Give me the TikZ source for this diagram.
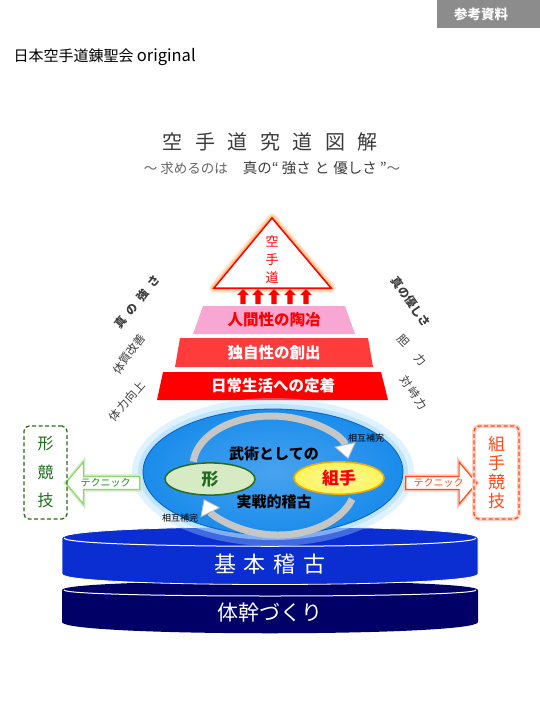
\documentclass[tikz,border=0pt]{standalone}
\usepackage{fontspec}
\setmainfont{Noto Sans CJK JP}
\usetikzlibrary{shapes.geometric,shapes.arrows,arrows.meta}
\definecolor{taggray}{HTML}{8C8C8C}
\definecolor{titlegray}{HTML}{3C3C3C}
\definecolor{subgray}{HTML}{666666}
\definecolor{pinktier}{HTML}{F8A6D2}
\definecolor{redtier}{HTML}{FF3B3B}
\definecolor{coreblue}{HTML}{1A8CEB}
\definecolor{coreedge}{HTML}{0A5FB8}
\definecolor{glowblue}{HTML}{A8DCFF}
\definecolor{katafill}{HTML}{D6EAC4}
\definecolor{kataedge}{HTML}{2C6A1C}
\definecolor{katatext}{HTML}{1E6E1E}
\definecolor{kumifill}{HTML}{FFF35A}
\definecolor{kumiedge}{HTML}{F0AC00}
\definecolor{techgreen}{HTML}{8FD46E}
\definecolor{techred}{HTML}{FF4A1A}
\definecolor{discblue}{HTML}{0A2ED2}
\definecolor{discnavy}{HTML}{000066}
\newcommand\tgap{\hspace{12.5pt}}
\begin{document}
\begin{tikzpicture}[x=1pt, y=-1pt, >=Stealth,
  tiertext/.style={font=\bfseries\fontsize{15.5}{15.5}\selectfont},
  sidetext/.style={text=titlegray, font=\fontsize{11.5}{11.5}\selectfont, inner sep=0pt},
  uparrow/.style={single arrow, shape border rotate=90, fill=red, inner sep=2.5pt,
    minimum height=15pt, single arrow head extend=3pt, single arrow head indent=0pt},
  techarrow/.style={single arrow, fill=white, line width=1.2pt, inner ysep=1.5pt, inner xsep=3pt,
    minimum height=74pt, single arrow head extend=14.5pt, single arrow tip angle=100,
    font=\fontsize{10}{10}\selectfont},
  sportbox/.style={rectangle, rounded corners=5pt, dashed, dash pattern=on 4pt off 2.5pt,
    line width=1.3pt, minimum height=93pt, align=center, inner sep=0pt},
  ribbon/.style={line width=7pt, gray!45,
    -{Triangle[width=22pt, length=15pt, color=gray!55, fill=white, line width'=0.8pt]}},
  mutual/.style={font=\fontsize{9}{9}\selectfont}]
\useasboundingbox (0,0) rectangle (540,720);
\fill[white] (0,0) rectangle (540,720);

% header
\fill[taggray] (437,0) rectangle (540,28);
\node[text=white, font=\bfseries\fontsize{13.5}{13.5}\selectfont] (tag) at (481,14) {参考資料};
\node[anchor=west, font=\fontsize{15}{15}\selectfont] (org) at (10,57) {日本空手道錬聖会 {\fontsize{16.5}{16.5}\selectfont original}};
\node[text=titlegray, font=\fontsize{20}{20}\selectfont] (title) at (270,142)
  {空\tgap 手\tgap 道\tgap 究\tgap 道\tgap 図\tgap 解};
\node[font=\fontsize{13.5}{13.5}\selectfont] (subtitle) at (272,168)
  {\color{subgray}～ 求めるのは\hspace{15pt}\color{titlegray}{\fontsize{14.5}{14.5}\selectfont 真の“\hspace{3pt}強さ\hspace{4pt}と\hspace{4pt}優しさ\hspace{3pt}”}\color{subgray}～};

% apex triangle
\coordinate (apex) at (272,218);
\coordinate (baseL) at (214,288);
\coordinate (baseR) at (331,288);
\foreach \w/\o in {10/0.12, 7/0.2, 4/0.35}
  \draw[orange, line width=\w pt, opacity=\o, line join=round] (apex) -- (baseL) -- (baseR) -- cycle;
\draw[red, line width=1.5pt, fill=white, line join=miter] (apex) -- (baseL) -- (baseR) -- cycle;
\node[text=red, align=center, font=\fontsize{13}{18}\selectfont] (karate) at (272,260) {空\\手\\道};

% rising arrows
\foreach \x [count=\i] in {243,258,274,290,306}
  \node[uparrow] (up\i) at (\x,298) {};

% tiers
\fill[pinktier] (203,306) -- (345,306) -- (355,334) -- (193,334) -- cycle;
\node[tiertext, text=red] (tier1) at (274,320) {人間性の陶冶};
\fill[redtier] (180,338) -- (368,338) -- (373,367) -- (175,367) -- cycle;
\node[tiertext, text=white] (tier2) at (274,352.5) {独自性の創出};
\fill[red] (163,372) -- (381,372) -- (388,400) -- (157,400) -- cycle;
\node[tiertext, text=white] (tier3) at (273,386) {日常生活への定着};

% side words
\node[sidetext, rotate=51, font=\bfseries\fontsize{11.5}{11.5}\selectfont] (strength) at (137,302) {真\hspace{6pt}の\hspace{6pt}強\hspace{6pt}さ};
\node[sidetext, rotate=54] (bodyfix) at (129,354) {体質改善};
\node[sidetext, rotate=49] (power) at (127,401) {体\hspace{1pt}力\hspace{1pt}向\hspace{1pt}上};
\node[sidetext, rotate=-55, font=\bfseries\fontsize{11.5}{11.5}\selectfont] (kindness) at (411,302) {真の優しさ};
\node[sidetext, rotate=-46] (nerve) at (412,350) {胆\hspace{14pt}力};
\node[sidetext, rotate=-56] (face) at (414,393) {対\hspace{2pt}峙\hspace{2pt}力};

% foundation discs
\fill[discnavy] (62,590) .. controls (62,578) and (478,578) .. (478,590)
  -- (478,622) .. controls (478,637) and (62,637) .. (62,622) -- cycle;
\draw[white, line width=1pt] (64,590) .. controls (64,598) and (476,598) .. (476,590);
\node[text=white, font=\fontsize{21}{21}\selectfont] (trunk) at (270,613) {体幹づくり};
\fill[discblue, draw=white, line width=0.8pt] (62,538) .. controls (62,523) and (478,523) .. (478,538)
  -- (478,574) .. controls (478,588) and (62,588) .. (62,574) -- cycle;
\draw[white, line width=1pt] (64,538) .. controls (64,549) and (476,549) .. (476,538);
\node[text=white, font=\fontsize{22}{22}\selectfont] (basics) at (270,564) {基\hspace{8pt}本\hspace{8pt}稽\hspace{8pt}古};

% core ellipse
\fill[glowblue, opacity=.35] (273,472) ellipse [x radius=141, y radius=74];
\fill[glowblue, opacity=.6] (273,472) ellipse [x radius=135, y radius=68];
\shade[inner color=coreblue!80!white, outer color=coreblue, draw=coreedge, line width=0.8pt]
  (273,472) ellipse [x radius=130, y radius=63];
\draw[ribbon] (271,466) ++(-175:78 and 50) arc [start angle=-175, end angle=-8, x radius=78, y radius=50];
\draw[ribbon] (278,483) ++(18:78 and 52) arc [start angle=18, end angle=162, x radius=78, y radius=52];
\node[mutual] (mutual1) at (366,438) {相互補完};
\node[mutual] (mutual2) at (180,518) {相互補完};
\node[tiertext, font=\bfseries\fontsize{15}{15}\selectfont] (core1) at (274,454) {武術としての};
\node[tiertext, font=\bfseries\fontsize{15}{15}\selectfont] (core2) at (274,502) {実戦的稽古};
\node[ellipse, draw=kataedge, line width=1.5pt, fill=katafill, minimum width=90pt, minimum height=28pt,
  text=katatext, font=\bfseries\fontsize{17}{17}\selectfont] (kata) at (210,479) {形};
\node[ellipse, draw=kumiedge, line width=1.5pt, inner color=kumifill!60!white, outer color=kumifill,
  minimum width=90pt, minimum height=32pt, text=red, font=\bfseries\fontsize{17}{17}\selectfont] (kumite) at (339,478) {組手};

% technique arrows and competitions
\node[techarrow, draw=techgreen, text=katatext!80!green, shape border rotate=180,
  preaction={draw=techgreen!40, line width=4pt}] (techL) at (105.5,483) {テクニック};
\node[techarrow, draw=techred, text=techred, minimum height=71pt,
  preaction={draw=techred!30, line width=4pt}] (techR) at (438.5,483) {テクニック};
\node[sportbox, draw=kataedge, minimum width=43pt, text=katatext,
  font=\fontsize{16}{28.5}\selectfont] (kataC) at (45.5,472.5) {形\\競\\技};
\node[sportbox, draw=techred, minimum width=45pt, text=techred,
  preaction={draw=techred!25, line width=4pt, solid},
  font=\fontsize{17}{19}\selectfont] (kumiteC) at (496.5,472.5) {組\\手\\競\\技};
\end{tikzpicture}
\end{document}
